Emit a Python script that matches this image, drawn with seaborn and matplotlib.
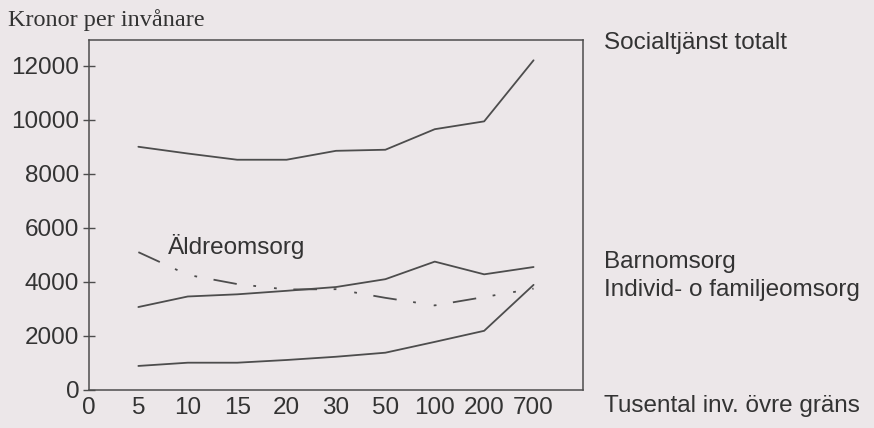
import matplotlib
matplotlib.use("Agg")
import matplotlib.pyplot as plt
import seaborn as sns
import pandas as pd
import numpy as np

# x categories: upper population bound (thousands of inhabitants)
X_LABELS = ["0", "5", "10", "15", "20", "30", "50", "100", "200", "700"]
X_POS = list(range(1, 10))  # data points sit at categories 5..700

# kronor per inhabitant
SOCIALTJANST = [9000, 8750, 8520, 8520, 8850, 8890, 9650, 9940, 12200]
ALDREOMSORG = [5100, 4260, 3920, 3720, 3730, 3410, 3130, 3440, 3750]
BARNOMSORG = [3070, 3460, 3540, 3670, 3810, 4100, 4750, 4280, 4550]
INDIVID = [890, 1010, 1010, 1110, 1230, 1380, 1780, 2190, 3890]

Y_TICKS = [0, 2000, 4000, 6000, 8000, 10000, 12000]

BG = "#ece7e9"
INK = "#4d4d4d"
TXT = "#333333"
FS = 17.5

sns.set_theme(style="white")
plt.rcParams["font.family"] = ["Liberation Sans", "DejaVu Sans"]
plt.rcParams["lines.scale_dashes"] = False

df = pd.DataFrame({
    "x": X_POS * 4,
    "value": SOCIALTJANST + ALDREOMSORG + BARNOMSORG + INDIVID,
    "serie": (["Socialtjänst totalt"] * 9 + ["Äldreomsorg"] * 9
              + ["Barnomsorg"] * 9 + ["Individ- o familjeomsorg"] * 9),
})

fig = plt.figure(figsize=(8.74, 4.28), dpi=100, facecolor=BG)
ax = fig.add_axes([0.1018, 0.0888, 0.5652, 0.8177])
ax.set_facecolor(BG)

dashdot = (0, (17, 12, 2, 13, 2, 12))
for name, sub in df.groupby("serie", sort=False):
    sns.lineplot(data=sub, x="x", y="value", ax=ax, color=INK, lw=1.3,
                 linestyle=dashdot if name == "Äldreomsorg" else "-",
                 legend=False)

ax.set_xlim(0, 10)
ax.set_ylim(0, 12950)
ax.set_xticks(range(len(X_LABELS)))
ax.set_xticklabels(X_LABELS)
ax.set_yticks(Y_TICKS)
ax.set_yticklabels([str(v) for v in Y_TICKS])
ax.set_xlabel("")
ax.set_ylabel("")
ax.tick_params(axis="x", length=0, pad=5, labelsize=FS, labelcolor=TXT)
ax.tick_params(axis="y", direction="inout", length=9, width=1, color=INK,
               pad=2.5, labelsize=FS, labelcolor=TXT, left=True)
for sp in ax.spines.values():
    sp.set_color(INK)
    sp.set_linewidth(1.1)

ax.text(0.16, 0.411, "Äldreomsorg", transform=ax.transAxes, fontsize=FS,
        color=TXT, va="center", ha="left")

fig.text(0.009, 0.953, "Kronor per invånare", family="Liberation Serif",
         fontsize=17.5, color=TXT, va="center", ha="left")
fig.text(0.691, 0.9, "Socialtjänst totalt", fontsize=FS, color=TXT,
         va="center", ha="left")
fig.text(0.691, 0.388, "Barnomsorg", fontsize=FS, color=TXT,
         va="center", ha="left")
fig.text(0.691, 0.322, "Individ- o familjeomsorg", fontsize=FS, color=TXT,
         va="center", ha="left")
fig.text(0.691, 0.051, "Tusental inv. övre gräns", fontsize=FS, color=TXT,
         va="center", ha="left")

fig.savefig("out.png", dpi=100, facecolor=BG)
